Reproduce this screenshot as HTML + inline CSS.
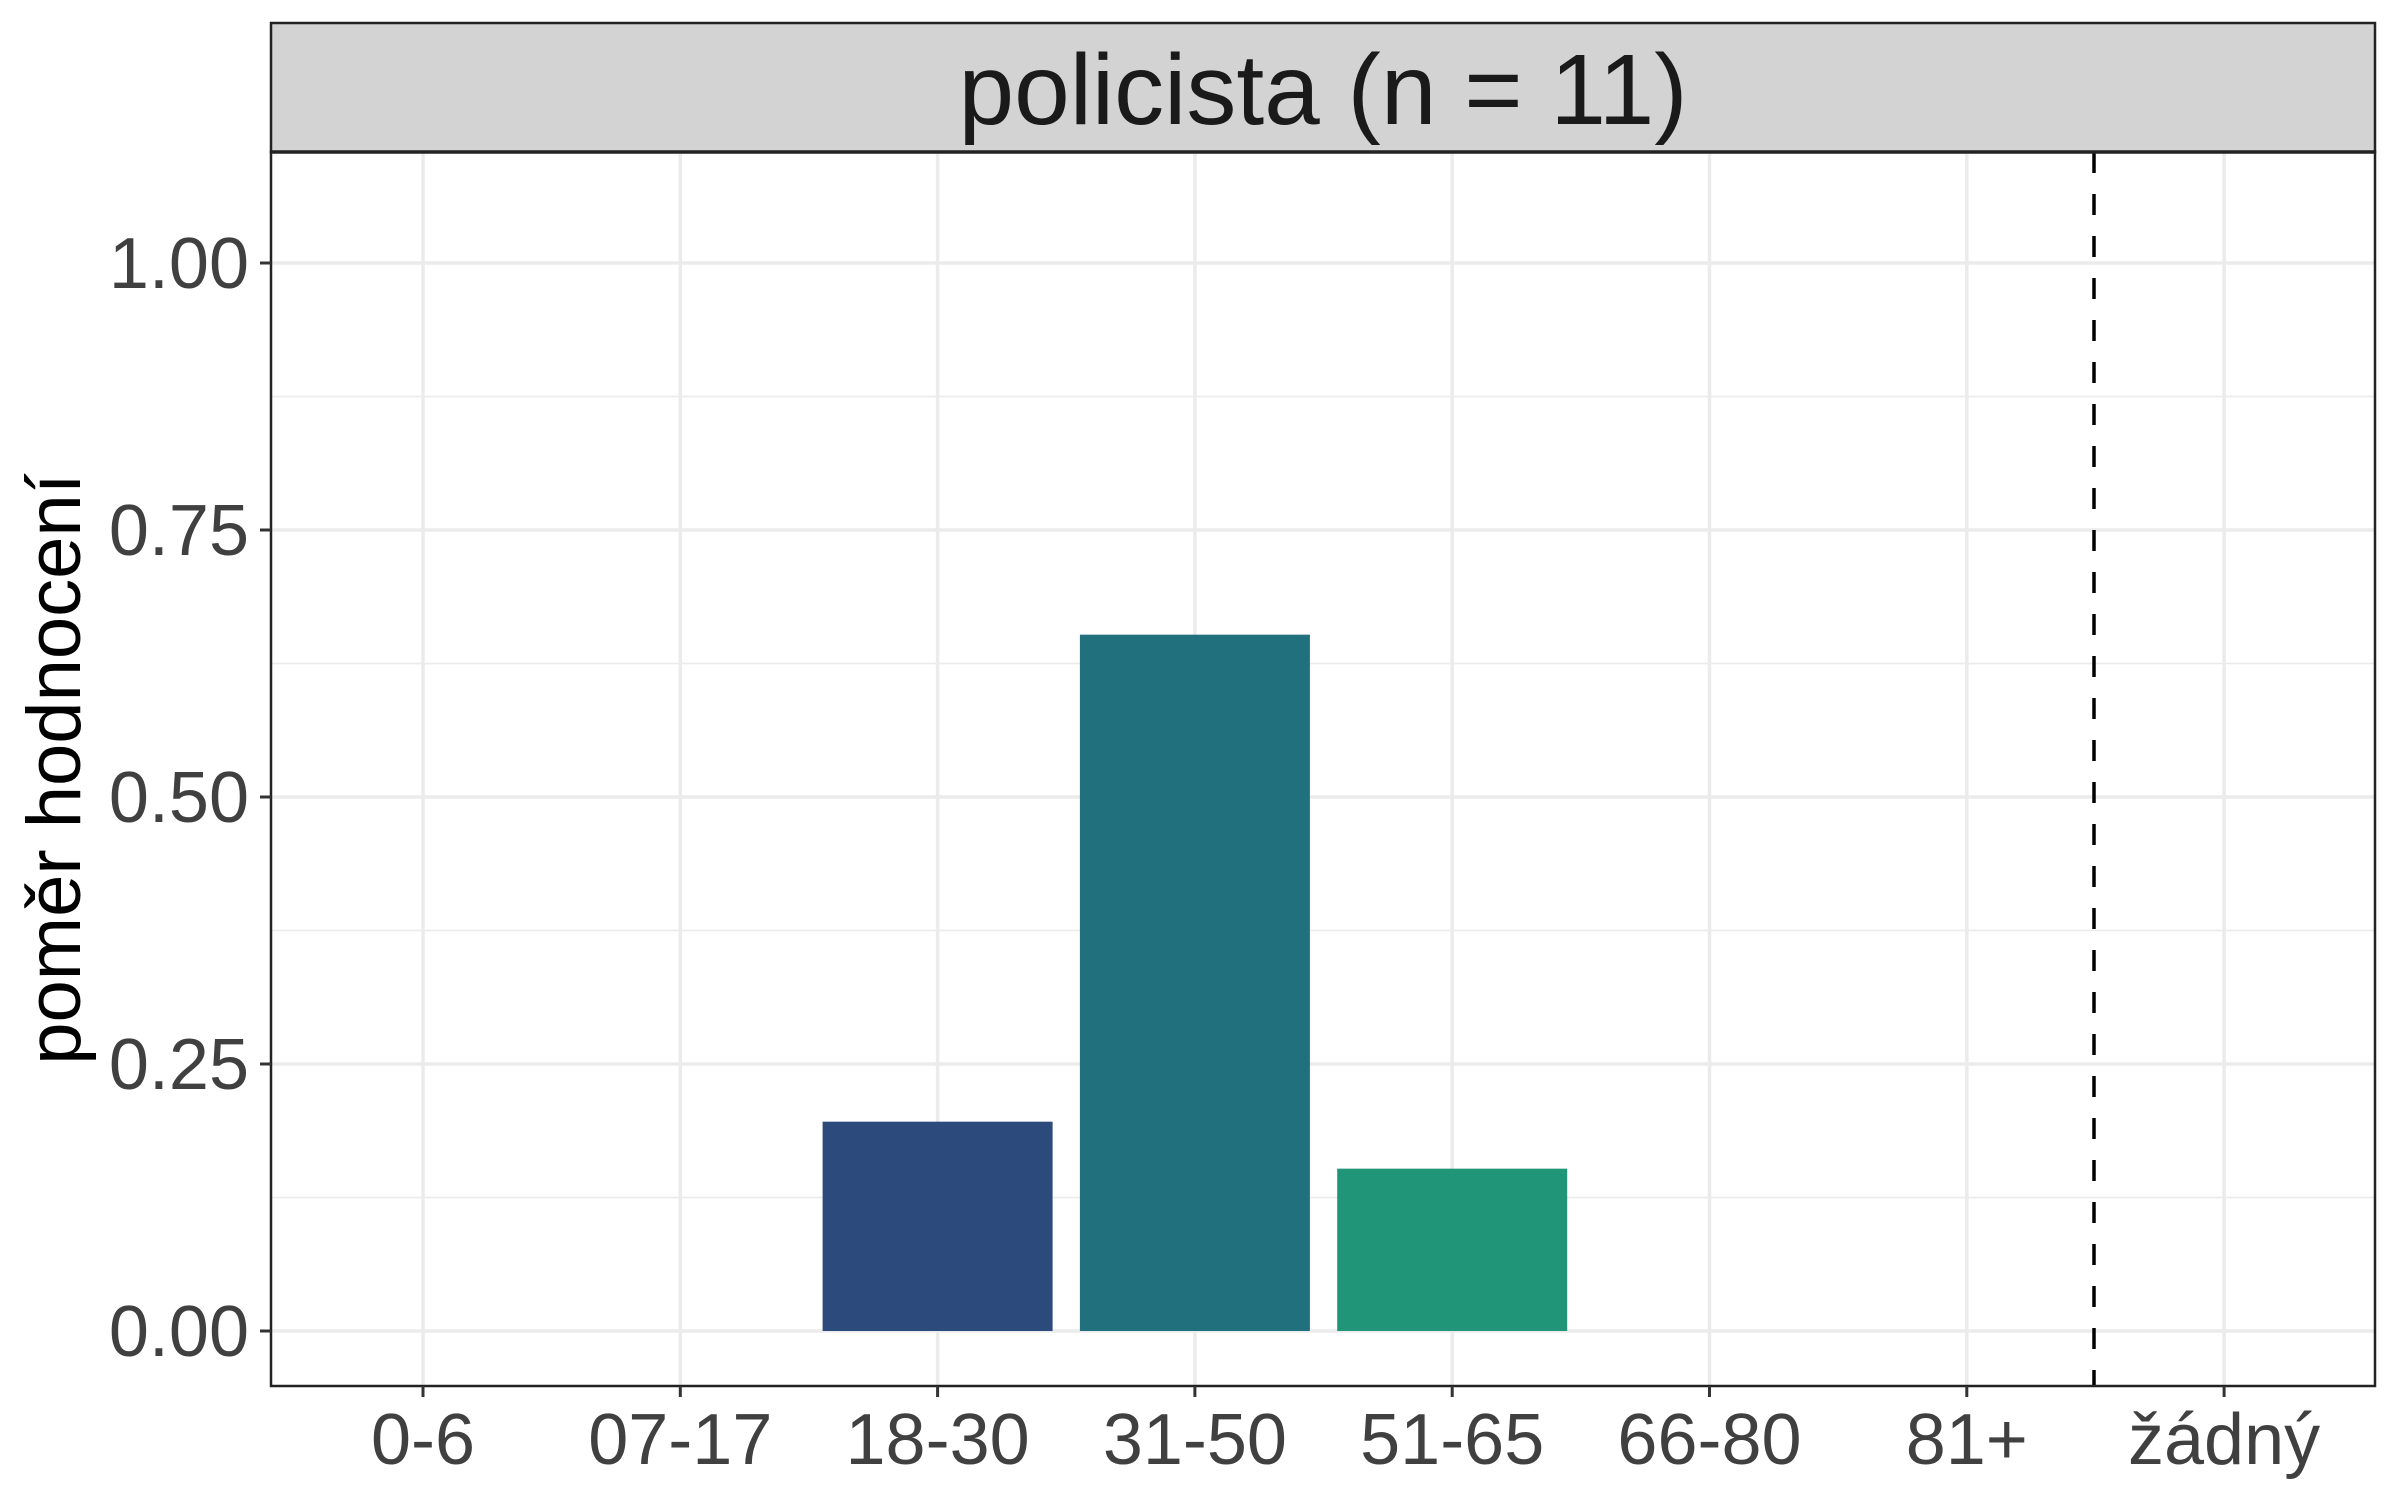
<!DOCTYPE html>
<html><head><meta charset="utf-8"><style>body{margin:0;background:#fff}svg{display:block;font-family:"Liberation Sans",Arial,sans-serif}</style></head>
<body>
<svg width="2400" height="1500" viewBox="0 0 2400 1500">
<g id="grid"></g>
<g id="bars"></g>
<line x1="2094" x2="2094" y1="152" y2="1386" stroke="#000" stroke-width="3.5" stroke-dasharray="21,21"/>
<rect x="271" y="152" width="2104" height="1234" fill="none" stroke="#222" stroke-width="2.5"/>
<rect x="271" y="23" width="2104" height="129" fill="#d3d3d3" stroke="#222" stroke-width="2.5"/>
<line x1="271" x2="2375" y1="152" y2="152" stroke="#222" stroke-width="3.5"/>
<text x="1323" y="124" font-size="100" text-anchor="middle" fill="#1a1a1a">policista (n = 11)</text>
<g id="axes"></g>
<text transform="translate(80,769) rotate(-90)" font-size="76" text-anchor="middle" fill="#000">poměr hodnocení</text>
</svg>
<script>
const categories=["0-6","07-17","18-30","31-50","51-65","66-80","81+","žádný"];
const values=[0,0,0.196,0.652,0.152,0,0,0];
const colors=["#2c4a7c","#2c4a7c","#2c4a7c","#21707d","#209577","#209577","#209577","#209577"];
const yTicks=[0,0.25,0.5,0.75,1];
const yTickLabels=["0.00","0.25","0.50","0.75","1.00"];
const ns="http://www.w3.org/2000/svg";
const x0=423,step=257.3,bw=230;
const xs=i=>x0+i*step;
const ys=v=>1331-v*1068;
function mk(tag,attrs,parent){const e=document.createElementNS(ns,tag);for(const k in attrs)e.setAttribute(k,attrs[k]);parent.appendChild(e);return e;}
const grid=document.getElementById('grid'),bars=document.getElementById('bars'),axes=document.getElementById('axes');
for(let i=0;i<yTicks.length;i++){
 const y=ys(yTicks[i]);
 const g=mk('line',{x1:271,x2:2375,y1:y,y2:y,stroke:'#ebebeb','stroke-width':3.5},grid);
 
 
 if(i<yTicks.length-1){const ym=ys((yTicks[i]+yTicks[i+1])/2);
 const m=mk('line',{x1:271,x2:2375,y1:ym,y2:ym,stroke:'#ebebeb','stroke-width':1.8},grid);
 
 }
 const t=mk('line',{x1:260,x2:271,y1:y,y2:y,stroke:'#333','stroke-width':3},axes);
 
 
 const l=mk('text',{x:249,y:y+25,'font-size':72,'text-anchor':'end',fill:'#404040'},axes);
 l.textContent=yTickLabels[i];
 
 
}
categories.forEach((c,i)=>{
 const x=xs(i);
 const g=mk('line',{x1:x,x2:x,y1:152,y2:1386,stroke:'#ebebeb','stroke-width':3.5},grid);
 
 
 if(values[i]>0){
  const r=mk('rect',{x:x-bw/2,y:ys(values[i]),width:bw,height:ys(0)-ys(values[i]),fill:colors[i]},bars);
  
  
 }
 const t=mk('line',{x1:x,x2:x,y1:1386,y2:1397,stroke:'#333','stroke-width':3},axes);
 
 
 const l=mk('text',{x:x,y:1464,'font-size':72,'text-anchor':'middle',fill:'#404040'},axes);
 l.textContent=c;
 
 
});
</script>
</body></html>
